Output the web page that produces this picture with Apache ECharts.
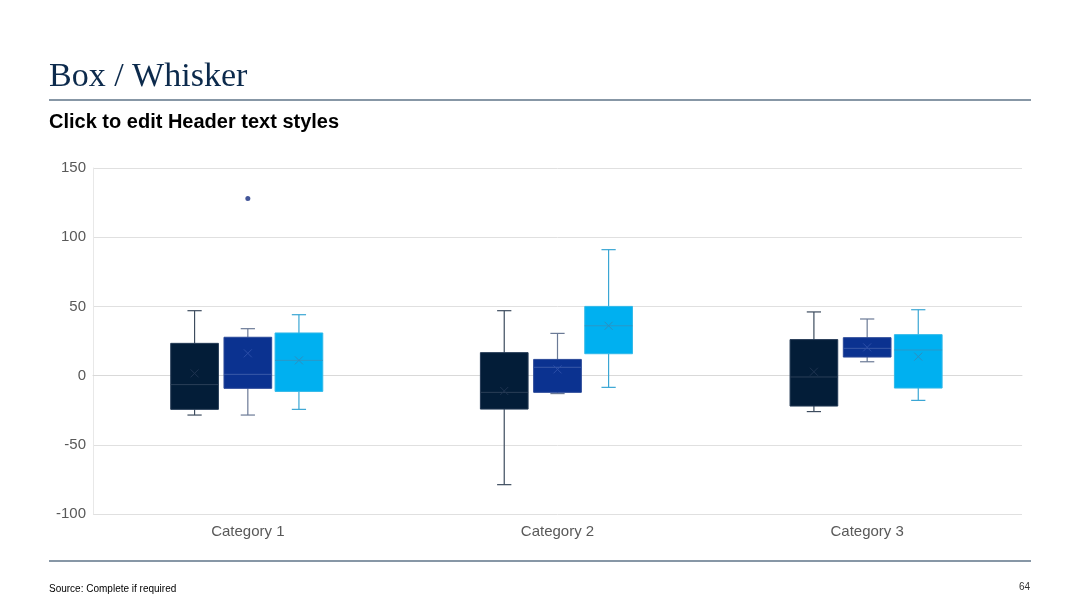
<!DOCTYPE html>
<html>
<head>
<meta charset="utf-8">
<script src="https://cdn.jsdelivr.net/npm/echarts@6/dist/echarts.min.js"></script>
<style>
html,body{margin:0;padding:0;background:#fff;}
#chart{width:1080px;height:608px;}
</style>
</head>
<body>
<div id="chart"></div>
<script>
// ---- data ----
const categories = ['Category 1', 'Category 2', 'Category 3'];
const seriesNames = ['Series 1', 'Series 2', 'Series 3'];
// each row: [min, q1, median, q3, max, mean]
const series1Stats = [
  [-28.5, -24.4, -6.5, 23.3, 46.9, 1.6],
  [-78.8, -24.2, -12.1, 16.6, 46.9, -11.1],
  [-26, -22, -1, 26, 46, 2.8]
];
const series2Stats = [
  [-28.5, -9.2, 0.9, 27.7, 33.9, 16.1],
  [-13, -12.1, 6, 11.7, 30.5, 4.5],
  [10, 13.4, 19.7, 27.4, 40.9, 20.4]
];
const series3Stats = [
  [-24.4, -11.4, 11, 30.8, 44, 11],
  [-8.5, 15.8, 36, 50, 91, 36],
  [-17.9, -9, 18.5, 29.6, 47.6, 13.7]
];
// outliers: [categoryIndex, value] for series 2
const series2Outliers = [[0, 128]];
const yTicks = {min: -100, max: 150, interval: 50};

// ---- styling ----
const styles = [
  {fill: '#031d38', border: '#243a55', whisker: '#3d4c5e', median: '#2b3f58', mean: '#1e3350'},
  {fill: '#0b3290', border: '#2a4898', whisker: '#6b7a96', median: '#3a5aa8', mean: '#2c4ea8'},
  {fill: '#00b0f0', border: '#30b8e8', whisker: '#3aa6d4', median: '#2a98c8', mean: '#2c8fc0'}
];
const OFFSETS = [-0.172, 0, 0.165];
const BOXW = 0.154;
const CAPW = 0.046;

function makeRender(si) {
  const st = styles[si];
  return function (params, api) {
    const cat = api.value(0);
    const bw = api.size([1, 0])[0];
    const cx = api.coord([cat, 0])[0] + OFFSETS[si] * bw;
    const w = bw * BOXW;
    const cw = bw * CAPW;
    const y = i => api.coord([cat, api.value(i)])[1];
    const yMin = y(1), yQ1 = y(2), yMed = y(3), yQ3 = y(4), yMax = y(5), yMean = y(6);
    const ls = {stroke: st.whisker, lineWidth: 1.2};
    const m = 4;
    return {
      type: 'group',
      children: [
        {type: 'line', shape: {x1: cx, y1: yMax, x2: cx, y2: yQ3}, style: ls},
        {type: 'line', shape: {x1: cx, y1: yQ1, x2: cx, y2: yMin}, style: ls},
        {type: 'line', shape: {x1: cx - cw / 2, y1: yMax, x2: cx + cw / 2, y2: yMax}, style: ls},
        {type: 'line', shape: {x1: cx - cw / 2, y1: yMin, x2: cx + cw / 2, y2: yMin}, style: ls},
        {type: 'rect', shape: {x: cx - w / 2, y: yQ3, width: w, height: yQ1 - yQ3},
          style: {fill: st.fill, stroke: st.border, lineWidth: 1}},
        {type: 'line', shape: {x1: cx - w / 2, y1: yMed, x2: cx + w / 2, y2: yMed},
          style: {stroke: st.median, lineWidth: 1}},
        {type: 'line', shape: {x1: cx - m, y1: yMean - m, x2: cx + m, y2: yMean + m},
          style: {stroke: st.mean, lineWidth: 1}},
        {type: 'line', shape: {x1: cx - m, y1: yMean + m, x2: cx + m, y2: yMean - m},
          style: {stroke: st.mean, lineWidth: 1}}
      ]
    };
  };
}

function toData(stats) {
  return stats.map((r, i) => [i].concat(r));
}

const allStats = [series1Stats, series2Stats, series3Stats];
const series = allStats.map((stats, si) => ({
  type: 'custom',
  name: seriesNames[si],
  renderItem: makeRender(si),
  encode: {x: 0, y: [1, 2, 3, 4, 5, 6]},
  data: toData(stats),
  z: 3
}));
series.push({
  type: 'scatter',
  name: seriesNames[1] + ' outliers',
  data: series2Outliers,
  symbolSize: 5,
  itemStyle: {color: '#142c80'},
  z: 4
});

const chart = echarts.init(document.getElementById('chart'), null, {renderer: 'canvas'});
chart.setOption({
  animation: false,
  backgroundColor: '#ffffff',
  grid: {left: 93, right: 58, top: 168, bottom: 94},
  xAxis: {
    type: 'category',
    data: categories,
    boundaryGap: true,
    axisLine: {show: true, lineStyle: {color: '#d9d9d9', width: 1}},
    axisTick: {show: false},
    axisLabel: {color: '#595959', fontSize: 15, fontFamily: 'Liberation Sans, Arial, sans-serif', margin: 10}
  },
  yAxis: {
    type: 'value',
    min: yTicks.min, max: yTicks.max, interval: yTicks.interval,
    axisLine: {show: true, lineStyle: {color: '#e8e8e8', width: 1}},
    axisTick: {show: false},
    splitLine: {lineStyle: {color: '#e0e0e0', width: 1}},
    axisLabel: {color: '#595959', fontSize: 15, fontFamily: 'Liberation Sans, Arial, sans-serif', margin: 7}
  },
  graphic: [
    {type: 'text', left: 49, top: 60, style: {text: 'Box / Whisker', fill: '#0c2a4c', font: '34px "Liberation Serif", "DejaVu Serif", serif'}},
    {type: 'rect', shape: {x: 49, y: 99, width: 982, height: 2}, style: {fill: '#8797a6'}},
    {type: 'text', left: 49, top: 112, style: {text: 'Click to edit Header text styles', fill: '#000000', font: 'bold 20px "Liberation Sans", Arial, sans-serif'}},
    {type: 'rect', shape: {x: 49, y: 560, width: 982, height: 2}, style: {fill: '#8797a6'}},
    {type: 'text', left: 49, top: 584, style: {text: 'Source: Complete if required', fill: '#000000', font: '10px "Liberation Sans Narrow", "Liberation Sans", Arial, sans-serif'}},
    {type: 'text', left: 1019, top: 582, style: {text: '64', fill: '#333333', font: '10px "Liberation Sans", Arial, sans-serif'}}
  ],
  series: series
});
</script>
</body>
</html>
